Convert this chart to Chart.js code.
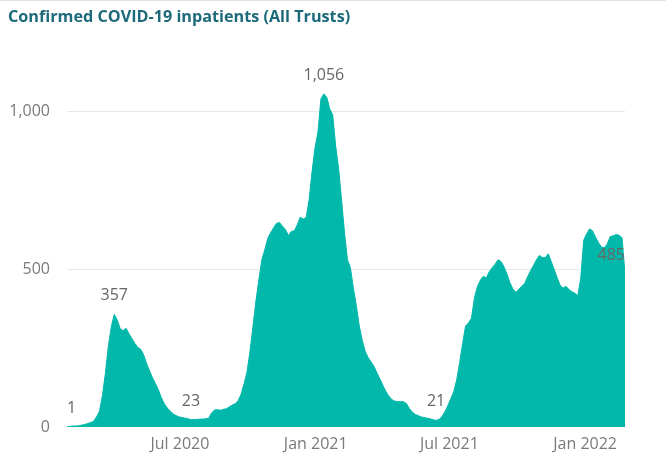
<!DOCTYPE html>
<html>
<head>
<meta charset="utf-8">
<script src="https://cdn.jsdelivr.net/npm/chart.js@4.4.1/dist/chart.umd.min.js"></script>
<style>
  html, body { margin: 0; padding: 0; background: #fff; }
  #card { position: relative; width: 666px; height: 473px; overflow: hidden; }
  #topline { position: absolute; left: 0; top: 0; width: 666px; height: 1px; background: #e2e2e2; }
  #title { position: absolute; left: 8px; top: 5px; font: 700 16.2px "Open Sans", sans-serif; color: #1c6a7a; white-space: nowrap; }
  canvas { position: absolute; left: 0; top: 0; }
</style>
</head>
<body>
<div id="card">
  <canvas id="chart" width="666" height="473"></canvas>
  <div id="topline"></div>
  <div id="title">Confirmed COVID-19 inpatients (All Trusts)</div>
</div>
<script>
// one reading every 4 days, starting on day 0
const stepDays = 4;
const inpatients = [
  1, 2, 3, 3, 4, 6, 8, 11, 14, 18,
  32, 50, 100, 170, 256, 318, 357, 340, 312, 305,
  313, 296, 280, 265, 252, 246, 228, 200, 177, 155,
  137, 117, 92, 73, 60, 50, 41, 36, 32, 30,
  28, 26, 23, 24, 24, 25, 25, 26, 28, 45,
  54, 55, 53, 56, 58, 64, 70, 74, 84, 105,
  138, 176, 242, 320, 400, 468, 530, 562, 598, 616,
  632, 646, 648, 636, 626, 607, 620, 622, 641, 665,
  659, 664, 720, 810, 885, 935, 1040, 1056, 1045, 1008,
  990, 890, 820, 720, 615, 530, 505, 440, 385, 320,
  275, 240, 220, 206, 192, 171, 152, 132, 113, 98,
  87, 82, 81, 81, 80, 74, 58, 47, 40, 36,
  32, 30, 28, 26, 23, 21, 24, 33, 48, 68,
  90, 112, 150, 205, 265, 320, 330, 345, 410, 445,
  465, 478, 472, 492, 505, 516, 530, 525, 508, 486,
  458, 438, 427, 436, 446, 455, 476, 495, 512, 530,
  544, 537, 537, 549, 525, 500, 474, 450, 440, 446,
  436, 429, 424, 416, 470, 592, 612, 628, 622, 602,
  585, 571, 568, 580, 604, 606, 610, 608, 600, 485
];

// x axis ticks, in days from the first reading
const tickDays = [153, 337, 518, 702];
const tickLabels = ['Jul 2020', 'Jan 2021', 'Jul 2021', 'Jan 2022'];
const yTicks = [0, 500, 1000];

// first, peaks, troughs and latest get a value label
const labelledIdx = [0, 16, 42, 87, 125, 189];

const fillColor = '#01B8AA';
const axisFont = { family: 'Open Sans', size: 16 };

const valueLabels = {
  id: 'valueLabels',
  afterDatasetsDraw(chart) {
    const ctx = chart.ctx;
    const pts = chart.getDatasetMeta(0).data;
    const area = chart.chartArea;
    ctx.save();
    ctx.font = '16px "Open Sans"';
    ctx.fillStyle = '#666666';
    ctx.textBaseline = 'alphabetic';
    ctx.textAlign = 'left';
    labelledIdx.forEach(i => {
      const p = pts[i];
      const txt = inpatients[i].toLocaleString('en-US');
      const w = ctx.measureText(txt).width;
      let left = p.x - w / 2;
      if (left < area.left) left = area.left;
      if (left + w > area.right) left = area.right - w;
      ctx.fillText(txt, left, p.y - 14);
    });
    ctx.restore();
  }
};

new Chart(document.getElementById('chart'), {
  type: 'line',
  data: {
    datasets: [{
      data: inpatients.map((v, i) => ({ x: i * stepDays, y: v })),
      fill: 'origin',
      backgroundColor: fillColor,
      borderColor: fillColor,
      borderWidth: 1,
      pointRadius: 0,
      tension: 0
    }]
  },
  options: {
    responsive: false,
    animation: false,
    layout: { padding: { top: 80, right: 41, left: 0, bottom: 0 } },
    plugins: { legend: { display: false }, tooltip: { enabled: false } },
    scales: {
      x: {
        type: 'linear',
        min: 0,
        max: (inpatients.length - 1) * stepDays,
        grid: { display: false, drawTicks: false },
        border: { display: false },
        afterBuildTicks: s => { s.ticks = tickDays.map(v => ({ value: v })); },
        afterFit: s => { s.height = 46; },
        ticks: {
          autoSkip: false,
          maxRotation: 0,
          padding: 8,
          color: '#7a7a7a',
          font: axisFont,
          callback: v => tickLabels[tickDays.indexOf(v)] || ''
        }
      },
      y: {
        min: 0,
        max: 1100,
        grid: {
          drawTicks: false,
          color: c => c.tick.value === 0 ? 'rgba(0,0,0,0)' : '#e8e8e8'
        },
        border: { display: false },
        afterBuildTicks: s => { s.ticks = yTicks.map(v => ({ value: v })); },
        afterFit: s => { s.width = 67; },
        ticks: {
          padding: 17,
          color: '#7a7a7a',
          font: axisFont,
          callback: v => v.toLocaleString('en-US')
        }
      }
    }
  },
  plugins: [valueLabels]
});
</script>
</body>
</html>
